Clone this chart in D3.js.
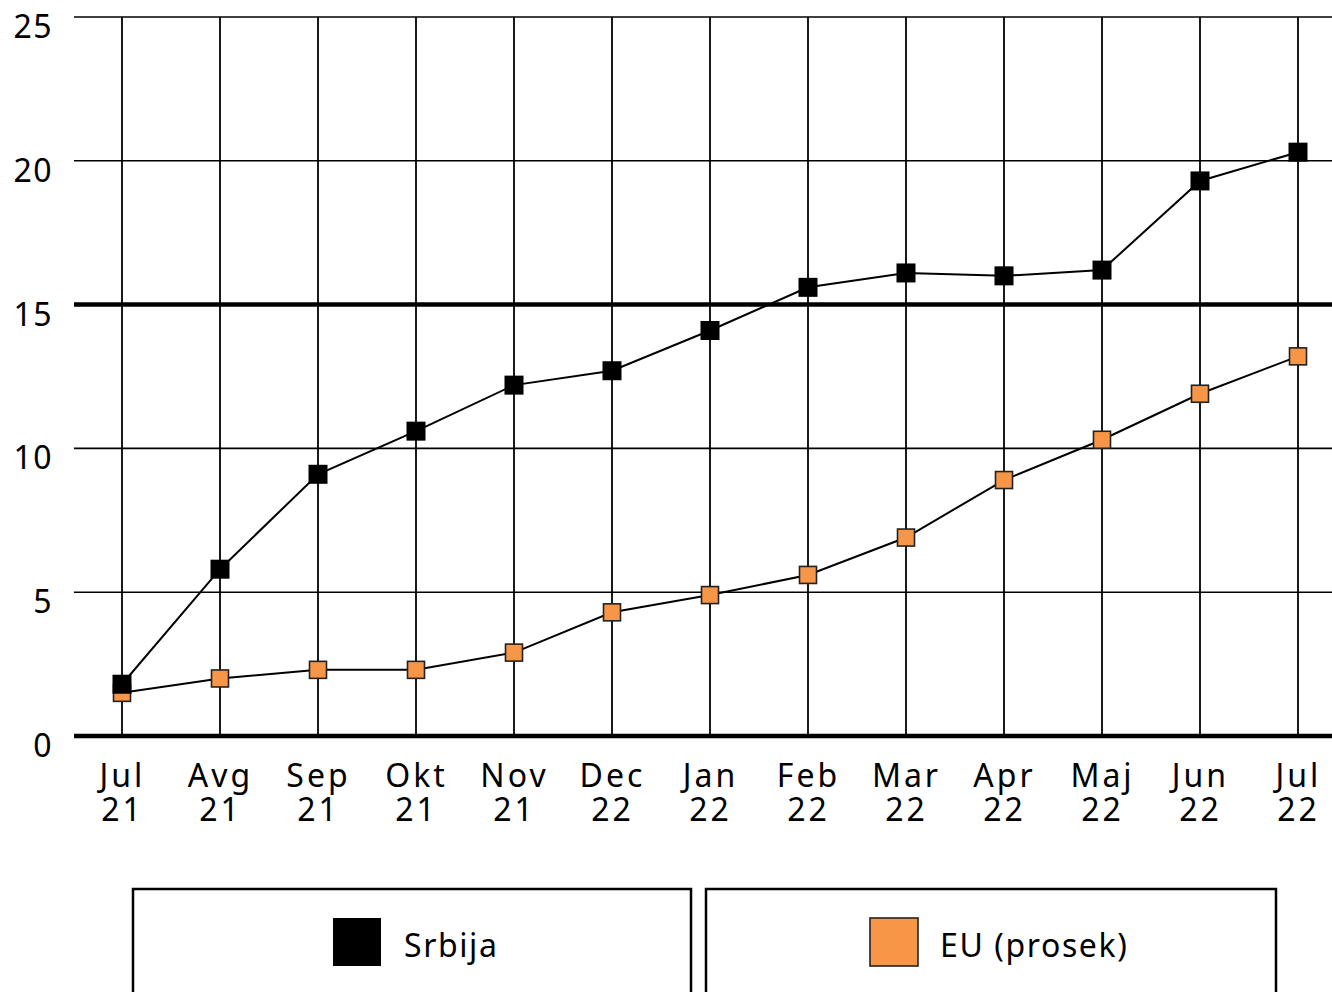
<!DOCTYPE html>
<html>
<head>
<meta charset="utf-8">
<script src="https://cdn.jsdelivr.net/npm/d3@7"></script>
<style>
  body { margin: 0; background: #fff; overflow: hidden; }
  svg { display: block; font-family: "Noto Sans", "Open Sans", sans-serif; }
</style>
</head>
<body>
<div id="chart"></div>
<script>
const months = ["Jul", "Avg", "Sep", "Okt", "Nov", "Dec", "Jan", "Feb", "Mar", "Apr", "Maj", "Jun", "Jul"];
const years  = ["21", "21", "21", "21", "21", "22", "22", "22", "22", "22", "22", "22", "22"];
const srbija = [1.8, 5.8, 9.1, 10.6, 12.2, 12.7, 14.1, 15.6, 16.1, 16.0, 16.2, 19.3, 20.3];
const eu     = [1.5, 2.0, 2.3, 2.3, 2.9, 4.3, 4.9, 5.6, 6.9, 8.9, 10.3, 11.9, 13.2];
const yTicks = [0, 5, 10, 15, 20, 25];
const seriesNames = ["Srbija", "EU (prosek)"];

const W = 1332, H = 992;
const orange = "#F79646";

const svg = d3.select("#chart").append("svg")
  .attr("width", W).attr("height", H);

const idx = d3.range(months.length);
const x = d3.scalePoint().domain(idx).range([73, 1347]).padding(0.5);
const y = d3.scaleLinear().domain([0, 25]).range([736, 17]);

// horizontal grid
svg.append("g").selectAll("line")
  .data(yTicks)
  .join("line")
  .attr("x1", 74).attr("x2", W)
  .attr("y1", d => y(d)).attr("y2", d => y(d))
  .attr("stroke", "#000")
  .attr("stroke-width", d => (d === 0 || d === 15) ? 4.5 : 1.6);

// vertical grid
svg.append("g").selectAll("line")
  .data(idx)
  .join("line")
  .attr("x1", d => x(d)).attr("x2", d => x(d))
  .attr("y1", y(25)).attr("y2", y(0))
  .attr("stroke", "#000").attr("stroke-width", 1.8);

// y labels
svg.append("g").selectAll("text")
  .data(yTicks)
  .join("text")
  .attr("x", 53).attr("y", d => y(d) + 21)
  .attr("text-anchor", "end")
  .attr("font-size", 32)
  .attr("letter-spacing", 1.5)
  .text(d => d);

// x labels, two rows
svg.append("g").selectAll("text")
  .data(idx)
  .join("text")
  .attr("x", d => x(d) + 0.5).attr("y", 787)
  .attr("text-anchor", "middle")
  .attr("font-size", 32)
  .attr("letter-spacing", 3)
  .text(d => months[d]);
svg.append("g").selectAll("text")
  .data(idx)
  .join("text")
  .attr("x", d => x(d) + 0.5).attr("y", 821)
  .attr("text-anchor", "middle")
  .attr("font-size", 32)
  .attr("letter-spacing", 3)
  .text(d => years[d]);

const line = d3.line().x((d, i) => x(i)).y(d => y(d));

// EU series
svg.append("path").datum(eu)
  .attr("d", line).attr("fill", "none")
  .attr("stroke", "#000").attr("stroke-width", 2);
svg.append("g").selectAll("rect")
  .data(eu)
  .join("rect")
  .attr("x", (d, i) => x(i) - 8.5).attr("y", d => y(d) - 8.5)
  .attr("width", 17).attr("height", 17)
  .attr("fill", orange).attr("stroke", "#222").attr("stroke-width", 1.6);

// Srbija series
svg.append("path").datum(srbija)
  .attr("d", line).attr("fill", "none")
  .attr("stroke", "#000").attr("stroke-width", 2);
svg.append("g").selectAll("rect")
  .data(srbija)
  .join("rect")
  .attr("x", (d, i) => x(i) - 9.5).attr("y", d => y(d) - 9.5)
  .attr("width", 19).attr("height", 19)
  .attr("fill", "#000");

// legend
const cells = [
  {x0: 133, x1: 691, sq: 333, tx: 404, fill: "#000", stroke: "none"},
  {x0: 706, x1: 1276, sq: 870, tx: 940, fill: orange, stroke: "#222"}
];
const lg = svg.append("g").selectAll("g")
  .data(cells)
  .join("g");
lg.append("rect")
  .attr("x", d => d.x0).attr("y", 889)
  .attr("width", d => d.x1 - d.x0).attr("height", 200)
  .attr("fill", "none").attr("stroke", "#000").attr("stroke-width", 2.5);
lg.append("rect")
  .attr("x", d => d.sq).attr("y", 918)
  .attr("width", 48).attr("height", 48)
  .attr("fill", d => d.fill).attr("stroke", d => d.stroke).attr("stroke-width", 1.6);
lg.append("text")
  .attr("x", d => d.tx).attr("y", 957)
  .attr("font-size", 32)
  .attr("letter-spacing", 1.6)
  .text((d, i) => seriesNames[i]);
</script>
</body>
</html>
